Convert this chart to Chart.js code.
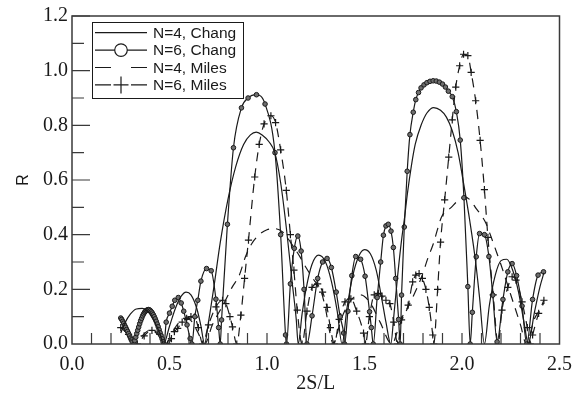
<!DOCTYPE html>
<html>
<head>
<meta charset="utf-8">
<script src="https://cdn.jsdelivr.net/npm/chart.js@4.4.1/dist/chart.umd.min.js"></script>
<style>
  html, body { margin: 0; padding: 0; background: #fff; }
</style>
</head>
<body>
<canvas id="chart" width="581" height="394"></canvas>
<script>
// values (R against 2S/L)
const xTicks = [0.0, 0.5, 1.0, 1.5, 2.0, 2.5];
const yTicks = [0.0, 0.2, 0.4, 0.6, 0.8, 1.0, 1.2];
const seriesNames = ['N=4, Chang', 'N=6, Chang', 'N=4, Miles', 'N=6, Miles'];

const chang4X = [0.25, 0.27, 0.30, 0.33, 0.36, 0.39, 0.42, 0.45, 0.47,
  0.50, 0.53, 0.56, 0.585, 0.61, 0.64, 0.66, 0.68,
  0.70, 0.73, 0.76, 0.80, 0.84, 0.88, 0.915, 0.945, 0.975, 1.01, 1.04, 1.07, 1.10, 1.13, 1.15, 1.16,
  1.18, 1.20, 1.23, 1.265, 1.30, 1.33, 1.36, 1.385,
  1.41, 1.44, 1.47, 1.50, 1.53, 1.56, 1.59, 1.61, 1.635,
  1.65, 1.67, 1.69, 1.705, 1.72, 1.74, 1.76, 1.79, 1.82, 1.855, 1.89, 1.92, 1.95, 1.98, 2.01, 2.04, 2.07, 2.09, 2.115,
  2.14, 2.17, 2.20, 2.23, 2.26, 2.29, 2.32, 2.34, 2.37, 2.40, 2.42];
const chang4Y = [0.04, 0.075, 0.11, 0.128, 0.13, 0.118, 0.085, 0.04, 0.0,
  0.065, 0.13, 0.175, 0.19, 0.18, 0.13, 0.07, 0.0,
  0.08, 0.22, 0.37, 0.53, 0.65, 0.73, 0.765, 0.775, 0.765, 0.74, 0.70, 0.59, 0.42, 0.22, 0.09, 0.0,
  0.11, 0.20, 0.29, 0.325, 0.30, 0.23, 0.12, 0.0,
  0.13, 0.25, 0.32, 0.345, 0.33, 0.27, 0.16, 0.08, 0.0,
  0.10, 0.25, 0.38, 0.46, 0.55, 0.65, 0.73, 0.80, 0.845, 0.865, 0.855, 0.83, 0.78, 0.70, 0.58, 0.45, 0.30, 0.17, 0.0,
  0.14, 0.25, 0.305, 0.31, 0.27, 0.19, 0.07, 0.0, 0.11, 0.21, 0.26];

const chang6X = [0.25, 0.255, 0.26, 0.265, 0.27, 0.275, 0.28, 0.285, 0.29, 0.295, 0.30, 0.305, 0.31, 0.318,
  0.322, 0.327, 0.332, 0.337, 0.342, 0.347, 0.352, 0.357, 0.362, 0.367, 0.372, 0.377, 0.382, 0.387, 0.392, 0.397,
  0.402, 0.407, 0.412, 0.417, 0.422, 0.427, 0.432, 0.437, 0.442, 0.447, 0.452, 0.457, 0.462, 0.467, 0.472,
  0.483, 0.50, 0.514, 0.527, 0.545, 0.56, 0.573, 0.59, 0.606, 0.615,
  0.63, 0.645, 0.661, 0.69, 0.714, 0.738, 0.752, 0.76,
  0.767, 0.797, 0.828, 0.869, 0.903, 0.946, 0.99, 1.041, 1.07, 1.095, 1.10,
  1.12, 1.14, 1.158, 1.175, 1.19, 1.205,
  1.231, 1.26, 1.285, 1.308, 1.33, 1.355, 1.375, 1.393, 1.398,
  1.415, 1.435, 1.455, 1.48, 1.503, 1.526, 1.535, 1.545,
  1.565, 1.583, 1.597, 1.61, 1.622, 1.636, 1.648, 1.66, 1.675, 1.683,
  1.69, 1.704, 1.719, 1.733, 1.75, 1.763, 1.777, 1.79, 1.805, 1.82, 1.836, 1.852, 1.868, 1.884, 1.90, 1.915, 1.93,
  1.95, 1.971, 1.991, 2.01, 2.03, 2.042,
  2.053, 2.073, 2.09, 2.115, 2.138, 2.158, 2.18,
  2.21, 2.235, 2.257, 2.28, 2.308, 2.332, 2.362, 2.39, 2.418];
const chang6Y = [0.095, 0.09, 0.083, 0.076, 0.068, 0.061, 0.053, 0.046, 0.038, 0.03, 0.022, 0.015, 0.007, 0.0,
  0.012, 0.025, 0.038, 0.05, 0.062, 0.074, 0.085, 0.094, 0.103, 0.11, 0.116, 0.12, 0.123, 0.125, 0.126, 0.125,
  0.122, 0.118, 0.113, 0.107, 0.10, 0.092, 0.083, 0.073, 0.063, 0.052, 0.041, 0.03, 0.019, 0.008, 0.0,
  0.08, 0.113, 0.138, 0.16, 0.17, 0.15, 0.12, 0.07, 0.02, 0.0,
  0.10, 0.16, 0.23, 0.276, 0.268, 0.164, 0.06, 0.0,
  0.088, 0.438, 0.718, 0.864, 0.90, 0.912, 0.878, 0.70, 0.40, 0.033, 0.0,
  0.22, 0.35, 0.395, 0.34, 0.20, 0.0,
  0.103, 0.24, 0.30, 0.313, 0.28, 0.19, 0.10, 0.04, 0.0,
  0.12, 0.25, 0.32, 0.31, 0.248, 0.118, 0.06, 0.0,
  0.17, 0.30, 0.398, 0.432, 0.438, 0.413, 0.353, 0.24, 0.09, 0.0,
  0.179, 0.428, 0.632, 0.766, 0.848, 0.894, 0.92, 0.937, 0.948, 0.956, 0.961, 0.963, 0.962, 0.958, 0.951, 0.94, 0.925,
  0.905, 0.85, 0.746, 0.535, 0.21, 0.0,
  0.116, 0.319, 0.404, 0.40, 0.32, 0.179, 0.008,
  0.163, 0.264, 0.294, 0.25, 0.139, 0.0, 0.163, 0.252, 0.264];

const miles4X = [0.25, 0.28, 0.31, 0.33, 0.36, 0.40, 0.44, 0.48, 0.52, 0.56, 0.60, 0.64, 0.68,
  0.72, 0.78, 0.823, 0.857, 0.89, 0.92, 0.96, 1.00, 1.04, 1.08, 1.12, 1.17, 1.20, 1.24, 1.275, 1.30, 1.32, 1.34,
  1.38, 1.43, 1.48, 1.53, 1.58, 1.64,
  1.68, 1.724, 1.75, 1.79, 1.827, 1.852, 1.878, 1.895, 1.945, 1.98, 2.013, 2.045, 2.073, 2.10, 2.124, 2.14, 2.18, 2.20, 2.25, 2.30, 2.33,
  2.37, 2.40, 2.42];
const miles4Y = [0.06, 0.04, 0.01, 0.0, 0.03, 0.05, 0.035, 0.0, 0.05, 0.085, 0.09, 0.05, 0.0,
  0.07, 0.15, 0.21, 0.25, 0.32, 0.365, 0.40, 0.418, 0.422, 0.41, 0.373, 0.318, 0.28, 0.235, 0.197, 0.13, 0.05, 0.0,
  0.09, 0.16, 0.18, 0.15, 0.08, 0.0,
  0.07, 0.136, 0.175, 0.24, 0.318, 0.365, 0.428, 0.465, 0.50, 0.525, 0.537, 0.525, 0.495, 0.47, 0.44, 0.41, 0.33, 0.29, 0.18, 0.07, 0.0,
  0.09, 0.125, 0.15];

const miles6X = [0.25, 0.27, 0.29, 0.31, 0.335, 0.37, 0.41, 0.45, 0.49,
  0.51, 0.525, 0.542, 0.565, 0.588, 0.61, 0.628, 0.648, 0.67,
  0.70, 0.738, 0.772, 0.789, 0.81, 0.823, 0.845,
  0.866, 0.885, 0.905, 0.937, 0.96, 0.985, 1.02, 1.044, 1.07, 1.099, 1.12, 1.138, 1.155, 1.18,
  1.205, 1.231, 1.26, 1.285, 1.308, 1.325, 1.345,
  1.37, 1.40, 1.43, 1.46, 1.495, 1.505,
  1.525, 1.55, 1.571, 1.59, 1.61, 1.63, 1.65, 1.67,
  1.69, 1.724, 1.747, 1.763, 1.78, 1.797, 1.815, 1.832, 1.85, 1.855,
  1.875, 1.89, 1.911, 1.932, 1.95, 1.968, 1.988, 2.008, 2.03, 2.047, 2.07, 2.093, 2.115, 2.133, 2.16, 2.185,
  2.205, 2.235, 2.257, 2.277, 2.308, 2.335, 2.35, 2.362, 2.393, 2.42];
const miles6Y = [0.06, 0.058, 0.035, 0.012, 0.0, 0.03, 0.05, 0.035, 0.0,
  0.02, 0.045, 0.057, 0.08, 0.094, 0.10, 0.098, 0.06, 0.0,
  0.07, 0.136, 0.16, 0.148, 0.10, 0.063, 0.0,
  0.106, 0.24, 0.38, 0.611, 0.73, 0.805, 0.835, 0.81, 0.71, 0.562, 0.40, 0.27, 0.124, 0.0,
  0.12, 0.207, 0.22, 0.19, 0.134, 0.06, 0.0,
  0.09, 0.154, 0.165, 0.12, 0.04, 0.0,
  0.10, 0.18, 0.185, 0.175, 0.16, 0.148, 0.08, 0.0,
  0.088, 0.142, 0.227, 0.252, 0.258, 0.24, 0.20, 0.134, 0.033, 0.0,
  0.20, 0.373, 0.527, 0.684, 0.82, 0.94, 1.018, 1.06, 1.055, 0.994, 0.89, 0.745, 0.565, 0.39, 0.18, 0.0,
  0.124, 0.207, 0.246, 0.234, 0.154, 0.06, 0.0, 0.033, 0.112, 0.16];

const toPoints = (xs, ys) => xs.map((x, i) => ({ x: x, y: ys[i] }));

const INK = '#1a1a1a';
const FRAME = '#3a3a3a';
const SERIF = '"Liberation Serif", "Times New Roman", serif';

// frame, inward ticks and the boxed legend
const frameAndLegend = {
  id: 'frameAndLegend',
  afterDatasetsDraw(chart) {
    const { ctx, chartArea: a, scales: { x, y } } = chart;
    ctx.save();
    ctx.strokeStyle = FRAME;
    ctx.lineWidth = 1.5;
    ctx.strokeRect(a.left, a.top, a.right - a.left, a.bottom - a.top);

    ctx.lineWidth = 1.2;
    ctx.beginPath();
    for (let i = 1; i < 25; i++) {
      const px = x.getPixelForValue(i / 10);
      ctx.moveTo(px, a.bottom);
      ctx.lineTo(px, a.bottom - 11);
    }
    for (let i = 1; i <= 12; i++) {
      const py = y.getPixelForValue(i / 10);
      ctx.moveTo(a.left, py);
      ctx.lineTo(a.left + (i % 2 === 0 ? 18 : 12), py);
    }
    ctx.stroke();

    // legend box
    const lx = a.left + 20, ly = a.top + 6, lw = 151, lh = 76;
    ctx.fillStyle = '#fff';
    ctx.fillRect(lx, ly, lw, lh);
    ctx.strokeStyle = INK;
    ctx.lineWidth = 1;
    ctx.strokeRect(lx + 0.5, ly + 0.5, lw, lh);

    ctx.font = '15.5px "Liberation Sans", Arial, sans-serif';
    ctx.textBaseline = 'middle';
    const s0 = lx + 3, s1 = lx + 55, mid = lx + 29;
    chart.data.datasets.forEach((ds, i) => {
      const ry = ly + 10.7 + i * 17.4;
      ctx.strokeStyle = INK;
      ctx.lineWidth = 1.2;
      ctx.beginPath();
      if (i < 2) {
        ctx.moveTo(s0, ry); ctx.lineTo(s1, ry);
      } else {
        ctx.moveTo(s0, ry); ctx.lineTo(s0 + 16, ry);
        ctx.moveTo(s1 - 16, ry); ctx.lineTo(s1, ry);
      }
      ctx.stroke();
      if (i === 1) {
        ctx.beginPath();
        ctx.arc(mid, ry, 6.3, 0, Math.PI * 2);
        ctx.fillStyle = '#fff';
        ctx.fill();
        ctx.stroke();
      }
      if (i === 3) {
        ctx.beginPath();
        ctx.moveTo(mid - 7.5, ry); ctx.lineTo(mid + 7.5, ry);
        ctx.moveTo(mid, ry - 8.5); ctx.lineTo(mid, ry + 8.5);
        ctx.stroke();
      }
      ctx.fillStyle = INK;
      ctx.fillText(ds.label, lx + 61, ry + 1);
    });
    ctx.restore();
  }
};

const ctx = document.getElementById('chart').getContext('2d');

new Chart(ctx, {
  type: 'line',
  data: {
    datasets: [
      {
        label: seriesNames[0],
        data: toPoints(chang4X, chang4Y),
        borderColor: INK,
        borderWidth: 1.2,
        pointRadius: 0,
        cubicInterpolationMode: 'monotone'
      },
      {
        label: seriesNames[1],
        data: toPoints(chang6X, chang6Y),
        borderColor: INK,
        borderWidth: 1.2,
        pointRadius: 2.3,
        pointBorderWidth: 1,
        pointBorderColor: INK,
        pointBackgroundColor: '#6e6e6e',
        cubicInterpolationMode: 'monotone'
      },
      {
        label: seriesNames[2],
        data: toPoints(miles4X, miles4Y),
        borderColor: INK,
        borderWidth: 1.2,
        borderDash: [9, 7],
        pointRadius: 0,
        cubicInterpolationMode: 'monotone'
      },
      {
        label: seriesNames[3],
        data: toPoints(miles6X, miles6Y),
        borderColor: INK,
        borderWidth: 1.2,
        borderDash: [9, 7],
        pointStyle: 'cross',
        pointRadius: 3.6,
        pointBorderWidth: 1.2,
        pointBorderColor: INK,
        cubicInterpolationMode: 'monotone'
      }
    ]
  },
  options: {
    responsive: false,
    devicePixelRatio: 1,
    animation: false,
    layout: { padding: { top: 15, right: 18, left: 0, bottom: 0 } },
    plugins: {
      legend: { display: false },
      tooltip: { enabled: false }
    },
    scales: {
      x: {
        type: 'linear',
        min: 0,
        max: 2.5,
        afterBuildTicks: (scale) => { scale.ticks = xTicks.map(v => ({ value: v })); },
        afterFit: (scale) => { scale.height = 50; },
        grid: { display: false, drawTicks: false },
        border: { display: false },
        ticks: {
          padding: 9,
          color: INK,
          font: { family: SERIF, size: 20 },
          callback: (v) => Number(v).toFixed(1),
          maxRotation: 0
        },
        title: {
          display: true,
          text: '2S/L',
          color: INK,
          font: { family: SERIF, size: 20 },
          padding: { top: 0, bottom: -2 }
        }
      },
      y: {
        type: 'linear',
        min: 0,
        max: 1.2,
        afterBuildTicks: (scale) => { scale.ticks = yTicks.map(v => ({ value: v })); },
        afterFit: (scale) => { scale.width = 72; },
        grid: { display: false, drawTicks: false },
        border: { display: false },
        ticks: {
          padding: 4,
          color: INK,
          font: { family: SERIF, size: 20 },
          callback: (v) => Number(v).toFixed(1)
        },
        title: {
          display: true,
          text: 'R',
          color: INK,
          font: { family: '"Liberation Sans", Arial, sans-serif', size: 16 },
          padding: { top: 14, bottom: 0 }
        }
      }
    }
  },
  plugins: [frameAndLegend]
});
</script>
</body>
</html>
